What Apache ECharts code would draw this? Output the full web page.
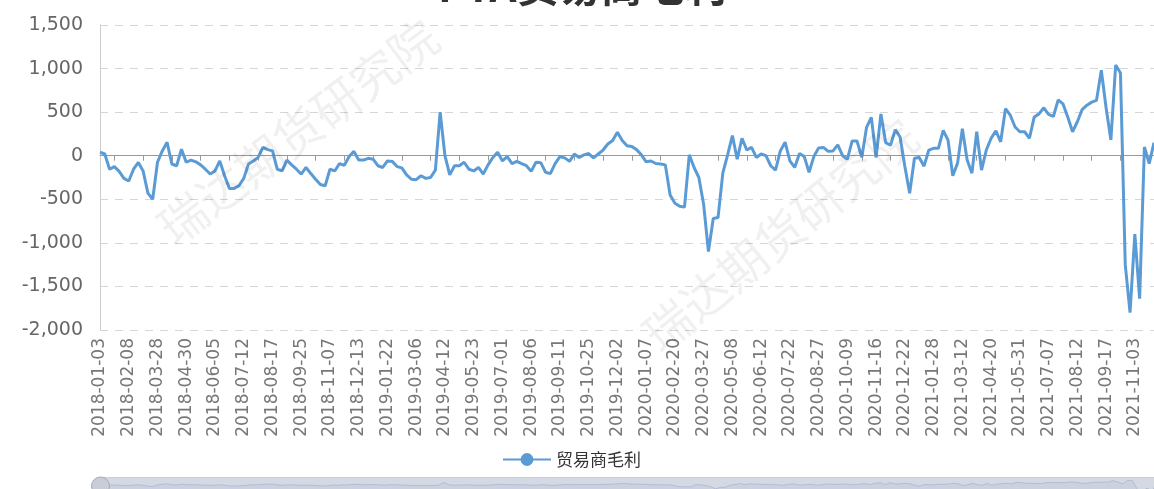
<!DOCTYPE html>
<html>
<head>
<meta charset="utf-8">
<script src="https://cdn.jsdelivr.net/npm/echarts@6/dist/echarts.min.js"></script>
<style>
html, body { margin: 0; padding: 0; background: #fff; }
#main { width: 1154px; height: 489px; }
</style>
</head>
<body>
<div id="main"></div>
<script>
// 日期（每段6个，标签每6个显示一次）
const dates = [
  '2018-01-03','2018-01-09','2018-01-15','2018-01-19','2018-01-25','2018-01-31',
  '2018-02-08','2018-02-14','2018-02-26','2018-03-06','2018-03-14','2018-03-21',
  '2018-03-28','2018-04-03','2018-04-10','2018-04-16','2018-04-20','2018-04-25',
  '2018-04-30','2018-05-07','2018-05-14','2018-05-18','2018-05-24','2018-05-30',
  '2018-06-05','2018-06-11','2018-06-15','2018-06-22','2018-06-28','2018-07-05',
  '2018-07-12','2018-07-18','2018-07-24','2018-07-30','2018-08-03','2018-08-10',
  '2018-08-17','2018-08-23','2018-08-29','2018-09-04','2018-09-11','2018-09-18',
  '2018-09-25','2018-09-28','2018-10-12','2018-10-18','2018-10-24','2018-10-31',
  '2018-11-07','2018-11-13','2018-11-19','2018-11-23','2018-11-29','2018-12-06',
  '2018-12-13','2018-12-19','2018-12-25','2019-01-02','2019-01-08','2019-01-15',
  '2019-01-22','2019-01-28','2019-02-01','2019-02-14','2019-02-21','2019-02-28',
  '2019-03-06','2019-03-12','2019-03-18','2019-03-22','2019-03-28','2019-04-04',
  '2019-04-12','2019-04-18','2019-04-24','2019-05-06','2019-05-10','2019-05-16',
  '2019-05-23','2019-05-29','2019-06-04','2019-06-12','2019-06-18','2019-06-24',
  '2019-07-01','2019-07-05','2019-07-11','2019-07-17','2019-07-23','2019-07-30',
  '2019-08-06','2019-08-12','2019-08-16','2019-08-22','2019-08-28','2019-09-04',
  '2019-09-11','2019-09-18','2019-09-24','2019-09-30','2019-10-11','2019-10-18',
  '2019-10-25','2019-10-31','2019-11-06','2019-11-12','2019-11-18','2019-11-26',
  '2019-12-02','2019-12-06','2019-12-12','2019-12-18','2019-12-24','2019-12-31',
  '2020-01-07','2020-01-13','2020-01-17','2020-02-04','2020-02-10','2020-02-14',
  '2020-02-20','2020-02-26','2020-03-03','2020-03-09','2020-03-16','2020-03-20',
  '2020-03-27','2020-04-02','2020-04-09','2020-04-16','2020-04-23','2020-04-29',
  '2020-05-08','2020-05-14','2020-05-20','2020-05-26','2020-06-01','2020-06-05',
  '2020-06-12','2020-06-18','2020-06-24','2020-07-02','2020-07-08','2020-07-15',
  '2020-07-22','2020-07-28','2020-08-03','2020-08-07','2020-08-13','2020-08-20',
  '2020-08-27','2020-09-02','2020-09-08','2020-09-14','2020-09-18','2020-09-25',
  '2020-10-09','2020-10-15','2020-10-21','2020-10-27','2020-11-02','2020-11-09',
  '2020-11-16','2020-11-20','2020-11-26','2020-12-02','2020-12-08','2020-12-15',
  '2020-12-22','2020-12-28','2021-01-05','2021-01-11','2021-01-15','2021-01-21',
  '2021-01-28','2021-02-03','2021-02-09','2021-02-23','2021-03-01','2021-03-05',
  '2021-03-12','2021-03-18','2021-03-24','2021-03-30','2021-04-07','2021-04-13',
  '2021-04-20','2021-04-26','2021-05-07','2021-05-13','2021-05-19','2021-05-25',
  '2021-05-31','2021-06-04','2021-06-10','2021-06-18','2021-06-24','2021-06-30',
  '2021-07-07','2021-07-13','2021-07-19','2021-07-23','2021-07-29','2021-08-05',
  '2021-08-12','2021-08-18','2021-08-24','2021-08-30','2021-09-03','2021-09-10',
  '2021-09-17','2021-09-24','2021-09-30','2021-10-13','2021-10-19','2021-10-26',
  '2021-11-03','2021-11-09','2021-11-15','2021-11-19','2021-11-25'
];

// 贸易商毛利（元/吨）
const margin = [
  40, 20, -155, -125, -180, -260,
  -290, -155, -77, -175, -430, -500,
  -75, 55, 155, -95, -115, 75,
  -75, -50, -70, -105, -155, -210,
  -175, -60, -230, -375, -375, -345,
  -260, -95, -60, -20, 95, 70,
  55, -155, -175, -50, -105, -155,
  -210, -135, -205, -270, -330, -345,
  -155, -175, -90, -110, -10, 50,
  -50, -50, -30, -40, -115, -135,
  -60, -65, -125, -140, -220, -270,
  -275, -230, -260, -250, -165, 500,
  0, -220, -115, -115, -75, -155,
  -175, -135, -210, -105, -20, 40,
  -60, -10, -90, -65, -90, -115,
  -180, -75, -80, -190, -205, -90,
  -10, -25, -65, 20, -20, 10,
  25, -25, 20, 65, 135, 175,
  270, 175, 115, 105, 70, 10,
  -70, -60, -90, -95, -105, -450,
  -545, -580, -590, 10, -135, -250,
  -560, -1100, -720, -710, -200, 10,
  230, -40, 200, 65, 95, -20,
  20, 0, -115, -165, 55, 155,
  -60, -135, 25, -10, -190, -10,
  90, 95, 50, 55, 125, 0,
  -40, 170, 170, -20, 325, 440,
  -20, 480, 150, 120, 300, 215,
  -125, -430, -30, -20, -120, 65,
  85, 85, 290, 180, -230, -85,
  310, -50, -200, 275, -165, 65,
  200, 285, 160, 540, 465, 330,
  275, 275, 200, 445, 480, 550,
  475, 450, 640, 595, 445, 275,
  390, 530, 580, 615, 635, 980,
  550, 180, 1040, 950, -1250, -1800,
  -900, -1640, 100, -90, 150
];

const yTicks = { min: -2000, max: 1500, step: 500 };

const myChart = echarts.init(document.getElementById('main'));
const option = {
  backgroundColor: '#fff',
  title: {
    text: 'PTA贸易商毛利',
    left: 433,
    top: -40,
    textStyle: { fontSize: 42, fontWeight: 'bold', color: '#333', fontFamily: 'Noto Sans CJK SC' }
  },
  graphic: [
    {
      type: 'text', x: 298, y: 132, rotation: Math.PI * 37 / 180, z: 100, silent: true,
      style: {
        text: '瑞达期货研究院', fill: 'rgba(0,0,0,0.06)', fontSize: 48,
        fontFamily: 'Noto Sans CJK SC', align: 'center', verticalAlign: 'middle'
      }
    },
    {
      type: 'text', x: 780, y: 235, rotation: Math.PI * 39 / 180, z: 100, silent: true,
      style: {
        text: '瑞达期货研究院', fill: 'rgba(0,0,0,0.06)', fontSize: 48,
        fontFamily: 'Noto Sans CJK SC', align: 'center', verticalAlign: 'middle'
      }
    }
  ],
  legend: {
    data: ['贸易商毛利'],
    left: 497,
    top: 446,
    itemWidth: 48,
    itemHeight: 16,
    textStyle: { fontSize: 17, color: '#333', fontFamily: 'Noto Sans CJK SC' }
  },
  grid: { left: 100, top: 25, width: 1056, height: 305 },
  xAxis: [
    {
      type: 'category',
      data: dates,
      boundaryGap: false,
      axisLine: { show: false, onZero: false },
      axisTick: { show: false },
      axisLabel: {
        rotate: 90, interval: 5, margin: 8,
        fontSize: 17, color: '#777', fontFamily: 'DejaVu Sans'
      },
      splitLine: { show: false }
    },
    {
      type: 'category',
      data: dates,
      boundaryGap: false,
      position: 'top',
      axisLine: { show: true, onZero: true, lineStyle: { color: '#999', width: 1 } },
      axisTick: { show: true, inside: true, length: 5, interval: (i) => i % 6 === 3, lineStyle: { color: '#999' } },
      axisLabel: { show: false },
      splitLine: { show: false }
    }
  ],
  yAxis: {
    type: 'value',
    min: yTicks.min,
    max: yTicks.max,
    interval: yTicks.step,
    axisLine: { show: true, lineStyle: { color: '#ccc' } },
    axisTick: { show: false },
    axisLabel: { fontSize: 19, color: '#666', margin: 17, fontFamily: 'DejaVu Sans' },
    splitLine: { lineStyle: { type: [8, 7], color: '#d6d6d6' } }
  },
  dataZoom: [
    {
      type: 'slider',
      xAxisIndex: 0,
      left: 97,
      right: -10,
      top: 477,
      height: 18,
      handleIcon: 'circle',
      handleSize: '100%',
      handleStyle: { color: '#c8cdd8', borderColor: '#aab' },
      borderColor: '#ccd',
      fillerColor: 'rgba(170,180,200,0.5)',
      showDetail: false,
      moveHandleSize: 0
    }
  ],
  series: [
    {
      name: '贸易商毛利',
      type: 'line',
      xAxisIndex: 0,
      data: margin,
      showSymbol: false,
      symbol: 'circle',
      symbolSize: 14,
      lineStyle: { color: '#5b9bd5', width: 3 },
      itemStyle: { color: '#5b9bd5' }
    }
  ]
};
myChart.setOption(option);
</script>
</body>
</html>
